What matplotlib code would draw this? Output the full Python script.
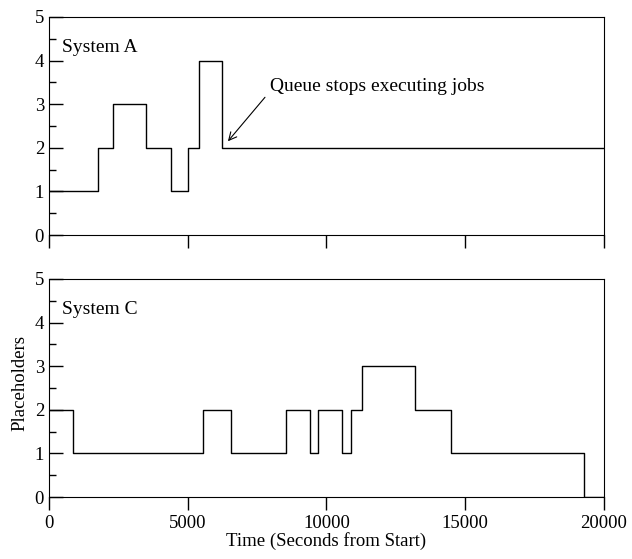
import matplotlib
matplotlib.use("Agg")
import matplotlib.pyplot as plt
from matplotlib.ticker import MultipleLocator

plt.rcParams['font.family'] = ['Liberation Serif', 'DejaVu Serif']
plt.rcParams['font.size'] = 13.5

# System A placeholders over time (step changes)
a_time = [0, 1750, 2300, 3500, 4400, 5000, 5400, 6250, 20000]
a_vals = [1, 2, 3, 2, 1, 2, 4, 2, 2]

# System C placeholders over time
c_time = [0, 850, 5550, 6550, 8550, 9400, 9700, 10550, 10900, 11300, 13200, 14500, 19300, 20000]
c_vals = [2, 1, 2, 1, 2, 1, 2, 1, 2, 3, 2, 1, 0, 0]

fig = plt.figure(figsize=(6.32, 5.59), dpi=100)
ax1 = fig.add_axes([0.0775, 0.5796, 0.878, 0.390])
ax2 = fig.add_axes([0.0775, 0.1109, 0.878, 0.390])

for ax, t, v, name in [(ax1, a_time, a_vals, "System A"), (ax2, c_time, c_vals, "System C")]:
    ax.step(t, v, where='post', color='black', lw=1.0)
    ax.set_xlim(0, 20000)
    ax.set_ylim(0, 5)
    ax.xaxis.set_major_locator(MultipleLocator(5000))
    ax.yaxis.set_major_locator(MultipleLocator(1))
    ax.yaxis.set_minor_locator(MultipleLocator(0.5))
    ax.tick_params(axis='y', which='major', direction='in', length=10, width=1, left=True, right=False)
    ax.tick_params(axis='y', which='minor', direction='in', length=5, width=1, left=True, right=False)
    ax.tick_params(axis='x', which='major', direction='out', length=9.5, width=1, top=False)
    ax.text(480, 4.3, name, va='center', ha='left', fontsize=14)

ax1.tick_params(axis='x', labelbottom=False)
ax1.annotate("Queue stops executing jobs", xy=(6450, 2.15), xytext=(7950, 3.4),
             va='center', ha='left', fontsize=14,
             arrowprops=dict(arrowstyle='->', color='black', lw=0.8,
                             relpos=(0, 0.2), shrinkA=2, shrinkB=0))

ax2.set_xlabel("Time (Seconds from Start)", labelpad=0)
fig.text(0.032, 0.315, "Placeholders", rotation=90, va='center', ha='center')

fig.savefig("out.png", dpi=100)
